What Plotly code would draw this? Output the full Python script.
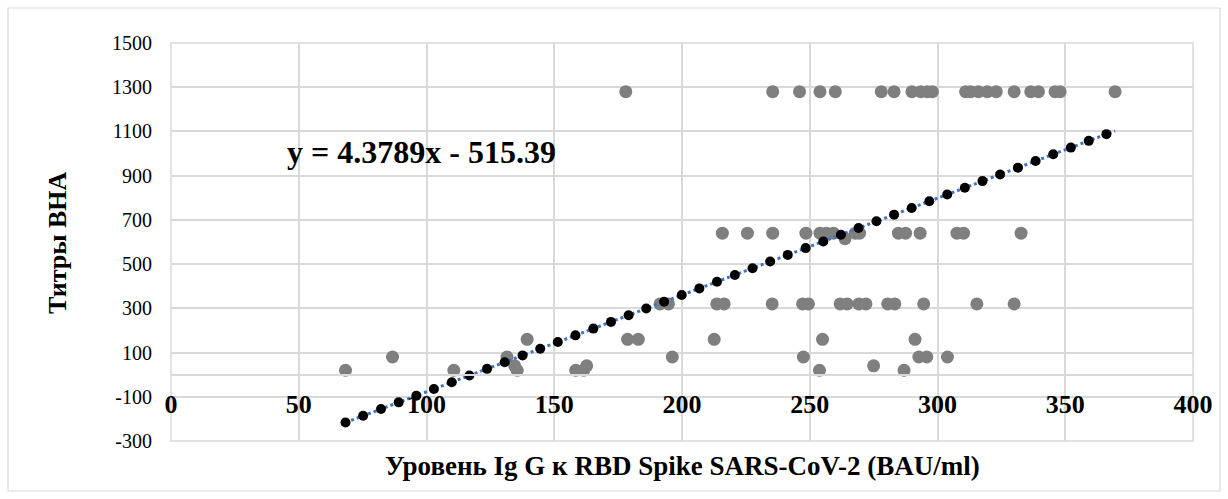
import plotly.graph_objects as go

# ---- data ----
titer_1280_x = [178, 235.5, 246, 254, 260, 278, 283, 290, 293.5, 296, 298, 311, 313, 316,
                319.5, 323, 330, 336.5, 339.5, 346, 348, 369.5]
titer_640_x = [215.8, 225.6, 235.5, 248.5, 254, 256.5, 259.3, 267.8, 269.5, 284.7, 287.5,
               293.2, 307.6, 310.2, 332.7]
titer_615_x = [263.8]
titer_320_x = [191.4, 194.7, 213.6, 216.5, 235.3, 247.2, 249.5, 261.9, 264.6, 269.2, 272,
               280.5, 283.3, 294.6, 315.4, 330]
titer_160_x = [139.4, 178.7, 182.9, 212.6, 255, 291.2]
titer_80_x = [86.7, 131.5, 196.2, 247.5, 292.7, 295.8, 303.9]
titer_40_x = [134.5, 162.7, 275]
titer_20_x = [68.3, 110.7, 135.5, 158.4, 161.5, 253.8, 286.9]

rows = [(1280, titer_1280_x), (640, titer_640_x), (615, titer_615_x), (320, titer_320_x),
        (160, titer_160_x), (80, titer_80_x), (40, titer_40_x), (20, titer_20_x)]
igg_x = [x for _, xs in rows for x in xs]
titer_y = [v for v, xs in rows for _ in xs]

# predicted points lying on the trend line
pred_x = [68.3, 75.2, 82.2, 89.1, 96.0, 102.9, 109.9, 116.8, 123.7, 130.6, 137.6, 144.5,
          151.4, 158.3, 165.3, 172.2, 179.1, 186.0, 193.0, 199.9, 206.8, 213.7, 220.7, 227.6,
          234.5, 241.4, 248.4, 255.3, 262.2, 269.1, 276.1, 283.0, 289.9, 296.8, 303.8, 310.7,
          317.6, 324.5, 331.5, 338.4, 345.3, 352.2, 359.2, 366.1]
pred_y = [-216.3, -186.1, -155.4, -125.2, -95.0, -64.8, -34.2, -3.9, 26.3, 56.5, 87.2, 117.4,
          147.6, 177.8, 208.4, 238.7, 268.9, 299.1, 329.7, 360.0, 390.2, 420.4, 451.0, 481.2,
          511.5, 541.7, 572.3, 602.5, 632.8, 663.0, 693.6, 723.8, 754.1, 784.3, 814.9, 845.1,
          875.4, 905.6, 936.2, 966.4, 996.6, 1026.9, 1057.5, 1087.7]

trend_x = [68.3, 369.5]
trend_y = [-216.3, 1102.6]
equation_text = "y = 4.3789x - 515.39"

y_tick_vals = [-300, -100, 100, 300, 500, 700, 900, 1100, 1300, 1500]
y_tick_text = ["-300", "-100", "100", "300", "500", "700", "900", "1100", "1300", "1500"]
x_tick_vals = [0, 50, 100, 150, 200, 250, 300, 350, 400]

x_title = "Уровень Ig G к RBD Spike SARS-CoV-2 (BAU/ml)"
y_title = "Титры ВНА"

# ---- layout constants ----
W, H = 1228, 499
ML, MR, MT, MB = 171, 35, 43, 58
PW, PH = W - ML - MR, H - MT - MB
FONT = "Liberation Serif"
GRID = "#d9d9d9"
YMIN, YMAX = -300, 1500


def px_to_paper_x(px):
    return (px - ML) / PW


def px_to_paper_y(py):
    return (H - MB - py) / PH


fig = go.Figure()
fig.add_trace(go.Scatter(x=igg_x, y=titer_y, mode="markers",
                         marker=dict(color="#7f7f7f", size=13), hoverinfo="skip"))
fig.add_trace(go.Scatter(x=trend_x, y=trend_y, mode="lines",
                         line=dict(color="#4472C4", width=3, dash="dot"), hoverinfo="skip"))
fig.add_trace(go.Scatter(x=pred_x, y=pred_y, mode="markers",
                         marker=dict(color="#000000", size=10), hoverinfo="skip"))

fig.update_layout(
    width=W, height=H,
    margin=dict(l=ML, r=MR, t=MT, b=MB, pad=0),
    paper_bgcolor="white", plot_bgcolor="white",
    showlegend=False,
    font=dict(family=FONT, color="#000000"),
    xaxis=dict(range=[0, 400], tickvals=x_tick_vals, showgrid=True, gridcolor=GRID,
               gridwidth=1.5, zeroline=False, showline=True, linecolor=GRID, linewidth=1.5,
               anchor="free", position=(0 - YMIN) / (YMAX - YMIN),
               ticks="", ticklabelstandoff=6,
               tickfont=dict(family=FONT, size=26, color="#000000", weight="bold")),
    yaxis=dict(range=[YMIN, YMAX], tickvals=y_tick_vals, ticktext=y_tick_text, showgrid=True,
               gridcolor=GRID, gridwidth=1.5, zeroline=False, showline=False, ticks="",
               ticklabelstandoff=18,
               tickfont=dict(family=FONT, size=20, color="#000000")),
    shapes=[
        dict(type="rect", xref="paper", yref="paper", x0=0, x1=1, y0=0, y1=1,
             line=dict(color=GRID, width=1.5), layer="below"),
        dict(type="rect", xref="paper", yref="paper",
             x0=px_to_paper_x(8), x1=px_to_paper_x(1220),
             y0=px_to_paper_y(491), y1=px_to_paper_y(8),
             line=dict(color=GRID, width=1.2), layer="below"),
    ],
    annotations=[
        dict(text="<b>" + equation_text + "</b>", xref="paper", yref="paper",
             x=px_to_paper_x(285), y=px_to_paper_y(152),
             xanchor="left", yanchor="middle", showarrow=False,
             font=dict(family=FONT, size=32, color="#000000")),
        dict(text="<b>" + x_title + "</b>", xref="paper", yref="paper", x=0.5,
             y=px_to_paper_y(466), xanchor="center", yanchor="middle", showarrow=False,
             font=dict(family=FONT, size=27, color="#000000")),
        dict(text="<b>" + y_title + "</b>", xref="paper", yref="paper",
             x=px_to_paper_x(58), y=px_to_paper_y(243), xanchor="center", yanchor="middle",
             textangle=-90, showarrow=False,
             font=dict(family=FONT, size=26, color="#000000")),
    ],
)

fig.write_html("out.html")
